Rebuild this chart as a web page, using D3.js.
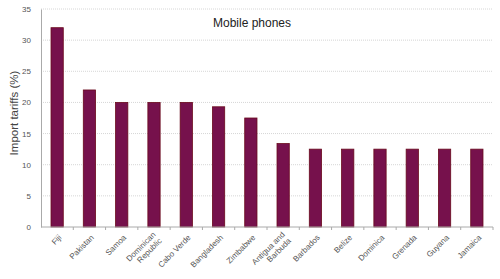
<!DOCTYPE html>
<html>
<head>
<meta charset="utf-8">
<script src="https://cdn.jsdelivr.net/npm/d3@7"></script>
<style>
  body { margin: 0; background: #fff; }
  text { font-family: "Liberation Sans", Arial, sans-serif; }
</style>
</head>
<body>
<div id="chart"></div>
<script>
// data
var countries = ["Fiji", "Pakistan", "Samoa", "Dominican Republic", "Cabo Verde", "Bangladesh",
  "Zimbabwe", "Antigua and Barbuda", "Barbados", "Belize", "Dominica", "Grenada", "Guyana", "Jamaica"];
var tariffs = [32, 22, 20, 20, 20, 19.3, 17.5, 13.4, 12.5, 12.5, 12.5, 12.5, 12.5, 12.5];
var yTicks = [0, 5, 10, 15, 20, 25, 30, 35];
var title = "Mobile phones";
var yLabel = "Import tariffs (%)";

var margin = {top: 9, right: 7, bottom: 52, left: 41},
    width = 500 - margin.left - margin.right,
    height = 279 - margin.top - margin.bottom;

var svg = d3.select("#chart")
  .append("svg")
    .attr("width", 500)
    .attr("height", 279)
  .append("g")
    .attr("transform", "translate(" + margin.left + "," + margin.top + ")");

var x = d3.scaleBand()
  .domain(countries)
  .range([0, 452])
  .paddingInner(0.62)
  .paddingOuter(0.31);

var y = d3.scaleLinear()
  .domain([0, 35])
  .range([height, 0]);

// dotted gridlines
svg.append("g")
  .selectAll("line")
  .data(yTicks.filter(function(d) { return d > 0; }))
  .enter()
  .append("line")
    .attr("x1", 0)
    .attr("x2", width)
    .attr("y1", function(d) { return y(d); })
    .attr("y2", function(d) { return y(d); })
    .attr("stroke", "#d6d6d6")
    .attr("stroke-width", 1)
    .attr("stroke-dasharray", "1,1");

// bars
svg.append("g")
  .selectAll("rect")
  .data(countries)
  .enter()
  .append("rect")
    .attr("x", function(d) { return x(d); })
    .attr("width", x.bandwidth())
    .attr("y", function(d, i) { return y(tariffs[i]); })
    .attr("height", function(d, i) { return height - y(tariffs[i]); })
    .attr("fill", "#76114c")
    .attr("stroke", "#6a0a1c")
    .attr("stroke-width", 0.8);

// y axis
var yAxis = svg.append("g")
  .call(d3.axisLeft(y).tickValues(yTicks).tickSize(0).tickPadding(10));
yAxis.select(".domain").attr("stroke", "#aaa");
yAxis.selectAll("text")
  .attr("fill", "#555")
  .style("font-size", "8px");

// x axis with ticks at category boundaries
var xAxisG = svg.append("g")
  .attr("transform", "translate(0," + height + ")");
xAxisG.append("line")
  .attr("x1", 0).attr("x2", 452)
  .attr("stroke", "#aaa");
xAxisG.selectAll(".tk")
  .data(countries)
  .enter()
  .append("line")
    .attr("class", "tk")
    .attr("x1", function(d) { return x(d) + x.bandwidth() / 2 + x.step() / 2; })
    .attr("x2", function(d) { return x(d) + x.bandwidth() / 2 + x.step() / 2; })
    .attr("y1", 0)
    .attr("y2", 3)
    .attr("stroke", "#aaa");

// rotated category labels, wrapped on two lines where long
var labels = xAxisG.selectAll(".lbl")
  .data(countries)
  .enter()
  .append("text")
    .attr("class", "lbl")
    .attr("text-anchor", "end")
    .attr("fill", "#555")
    .style("font-size", "8px")
    .attr("transform", function(d) {
      return "translate(" + (x(d) + x.bandwidth() / 2 + 3) + ",9) rotate(-45)";
    });

labels.each(function(d) {
  var t = d3.select(this);
  var lines = d.length > 15 ? (d == "Dominican Republic" ? ["Dominican", "Republic"] : ["Antigua and", "Barbuda"]) : [d];
  lines.forEach(function(l, i) {
    t.append("tspan")
      .attr("x", i == 0 ? 0 : 0)
      .attr("dy", i == 0 ? (lines.length > 1 ? "-0.15em" : "0.35em") : "1.1em")
      .text(l);
  });
});

// title
svg.append("text")
  .attr("x", 211)
  .attr("y", 18)
  .attr("text-anchor", "middle")
  .attr("fill", "#222")
  .style("font-size", "12px")
  .text(title);

// y axis label
svg.append("text")
  .attr("transform", "rotate(-90)")
  .attr("x", -104)
  .attr("y", -23)
  .attr("text-anchor", "middle")
  .attr("fill", "#444")
  .style("font-size", "11.5px")
  .text(yLabel);
</script>
</body>
</html>
